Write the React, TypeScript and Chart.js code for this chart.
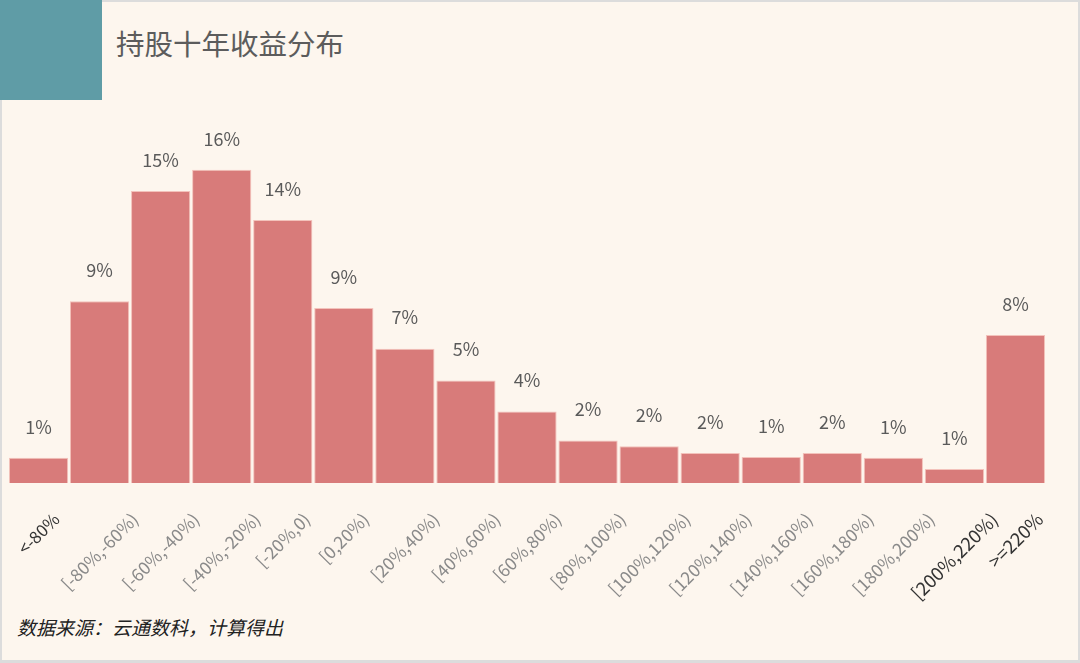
import React, { useEffect, useRef } from "react";
import { Chart, registerables } from "chart.js";

Chart.register(...registerables);

const categories = [
  "<-80%", "[-80%,-60%)", "[-60%,-40%)", "[-40%,-20%)", "[-20%,0)", "[0,20%)",
  "[20%,40%)", "[40%,60%)", "[60%,80%)", "[80%,100%)", "[100%,120%)", "[120%,140%)",
  "[140%,160%)", "[160%,180%)", "[180%,200%)", "[200%,220%)", ">=220%",
];
const shares = [1.3, 9.4, 15.1, 16.2, 13.6, 9.05, 6.95, 5.3, 3.7, 2.2, 1.9, 1.55, 1.35, 1.55, 1.3, 0.72, 7.65];
const darkTickIndices = [0, 15, 16];

const TITLE = "持股十年收益分布";
const SOURCE = "数据来源：云通数科，计算得出";
const FONT = '"Noto Sans CJK SC", "Noto Sans", sans-serif';

const labelPlugin = {
  id: "customLabels",
  afterDatasetsDraw(chart: any) {
    const ctx = chart.ctx;
    const meta = chart.getDatasetMeta(0);
    ctx.save();
    ctx.font = `18px ${FONT}`;
    ctx.fillStyle = "#5a5a5a";
    ctx.textAlign = "center";
    ctx.textBaseline = "middle";
    meta.data.forEach((bar: any, i: number) => {
      ctx.fillText(`${Math.round(shares[i])}%`, bar.x, bar.y - 31);
    });
    ctx.restore();

    const xScale = chart.scales.x;
    categories.forEach((lab, i) => {
      const cx = xScale.getPixelForValue(i);
      const dark = darkTickIndices.includes(i);
      ctx.save();
      const size = i === 0 ? 17 : dark ? 18.5 : 17.5;
      ctx.font = `${size}px ${FONT}`;
      ctx.fillStyle = dark ? "#333333" : "#8a8a8a";
      const w = ctx.measureText(lab).width;
      const cy = 512 + (w / 2) * 0.7071 + 4;
      ctx.translate(cx, cy);
      ctx.rotate(-Math.PI / 4);
      ctx.textAlign = "center";
      ctx.textBaseline = "middle";
      ctx.fillText(lab, 0, 0);
      ctx.restore();
    });
  },
};

export default function App() {
  const ref = useRef<HTMLCanvasElement | null>(null);

  useEffect(() => {
    if (!ref.current) return;
    const chart = new Chart(ref.current, {
      type: "bar",
      data: {
        labels: categories,
        datasets: [
          {
            data: shares,
            backgroundColor: "#d87b7a",
            borderColor: "#f3c2bb",
            borderWidth: 1,
            barPercentage: 0.97,
            categoryPercentage: 1,
          },
        ],
      },
      options: {
        animation: false,
        responsive: false,
        maintainAspectRatio: false,
        layout: { padding: { left: 8, right: 34, top: 135, bottom: 180 } },
        plugins: { legend: { display: false }, tooltip: { enabled: false }, title: { display: false } },
        scales: {
          x: { display: false },
          y: { display: false, min: 0, max: 18 },
        },
      },
      plugins: [labelPlugin],
    });
    return () => chart.destroy();
  }, []);

  return (
    <div style={{ position: "fixed", left: 0, top: 0, width: 1080, height: 663, background: "#dcdcdc", overflow: "hidden" }}>
      <div style={{ position: "absolute", left: 2, top: 2, width: 1076, height: 658, background: "#fdf6ee" }} />
      <div style={{ position: "absolute", left: 0, top: 0, width: 102, height: 100, background: "#5f9ca6" }} />
      <div
        style={{
          position: "absolute", left: 116, top: 23, height: 40, lineHeight: "40px",
          fontFamily: FONT, fontSize: 28.5, color: "#5c5c5c", whiteSpace: "nowrap",
        }}
      >
        {TITLE}
      </div>
      <div
        style={{
          position: "absolute", left: 17, top: 614, height: 26, lineHeight: "26px",
          fontFamily: FONT, fontSize: 19, fontStyle: "italic", color: "#222222", whiteSpace: "nowrap",
        }}
      >
        {SOURCE}
      </div>
      <canvas ref={ref} width={1080} height={663} style={{ position: "absolute", left: 0, top: 0, width: 1080, height: 663 }} />
    </div>
  );
}
